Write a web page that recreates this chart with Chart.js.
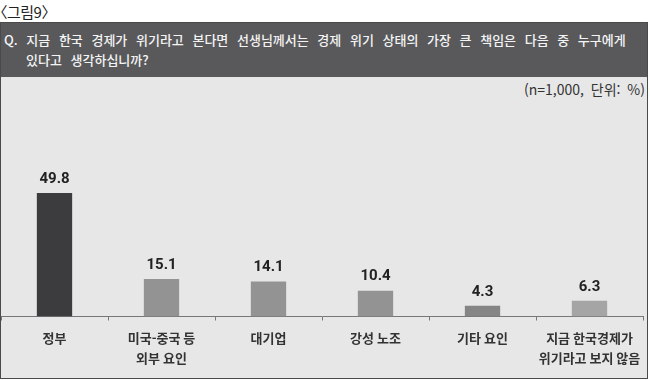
<!DOCTYPE html>
<html lang="ko">
<head>
<meta charset="utf-8">
<script src="https://cdn.jsdelivr.net/npm/chart.js@4/dist/chart.umd.min.js"></script>
<style>
  html, body { margin: 0; padding: 0; background: #ffffff; }
  body { width: 650px; height: 380px; position: relative; overflow: hidden; font-family: "Noto Sans CJK KR", sans-serif; }
  #fig { position: absolute; left: 0; top: 2px; font-size: 15px; line-height: 20px; color: #222; font-feature-settings: "halt"; letter-spacing: -0.5px; }
  #box { position: absolute; left: 0; top: 22px; width: 646px; height: 355px; border: 1px solid #4a4a4a; background: #e7e7e7; }
  #head { position: absolute; left: 0; top: 0; width: 646px; height: 54px; background: #59595b; color: #f4f4f4; font-size: 13px; line-height: 20px; font-weight: 500; word-spacing: 5px; }
  #head .l1 { position: absolute; left: 3px; top: 7px; white-space: nowrap; }
  #head .l2 { position: absolute; left: 25px; top: 27px; white-space: nowrap; }
  #unit { position: absolute; right: 5px; top: 79px; font-size: 14px; line-height: 20px; color: #333; word-spacing: 3px; }
  #wrap { position: absolute; left: 0; top: 77px; width: 650px; height: 303px; }
</style>
</head>
<body>
<div id="fig">〈그림9〉</div>
<div id="box">
  <div id="head">
    <div class="l1">Q. 지금 한국 경제가 위기라고 본다면 선생님께서는 경제 위기 상태의 가장 큰 책임은 다음 중 누구에게</div>
    <div class="l2">있다고 생각하십니까?</div>
  </div>
</div>
<div id="unit">(n=1,000, 단위: %)</div>
<div id="wrap"><canvas id="c"></canvas></div>
<script>
const categories = [
  ['정부'],
  ['미국-중국 등', '외부 요인'],
  ['대기업'],
  ['강성 노조'],
  ['기타 요인'],
  ['지금 한국경제가', '위기라고 보지 않음']
];
const values = [49.8, 15.1, 14.1, 10.4, 4.3, 6.3];
const barColors = ['#3c3c3e', '#939393', '#939393', '#939393', '#858585', '#a5a5a5'];

const valueLabels = {
  id: 'valueLabels',
  afterDatasetsDraw(chart) {
    const ctx = chart.ctx;
    ctx.save();
    ctx.font = 'bold 15px Roboto, "Noto Sans", sans-serif';
    ctx.fillStyle = '#222';
    ctx.textAlign = 'center';
    ctx.textBaseline = 'middle';
    chart.getDatasetMeta(0).data.forEach((bar, i) => {
      ctx.fillText(values[i].toFixed(1), bar.x, bar.y - 14);
    });
    ctx.restore();
  }
};

new Chart(document.getElementById('c'), {
  type: 'bar',
  data: {
    labels: categories,
    datasets: [{
      data: values,
      backgroundColor: barColors,
      borderWidth: 0,
      barPercentage: 0.33,
      categoryPercentage: 1
    }]
  },
  options: {
    responsive: true,
    maintainAspectRatio: false,
    animation: false,
    devicePixelRatio: 1,
    layout: { padding: { top: 41, left: 1, right: 7, bottom: 0 } },
    plugins: { legend: { display: false }, tooltip: { enabled: false } },
    scales: {
      x: {
        grid: { display: true, drawOnChartArea: false, drawTicks: true, tickLength: 4, color: '#777', offset: true },
        border: { display: true, color: '#777', width: 1 },
        ticks: {
          color: '#333',
          font: { family: '"Noto Sans CJK KR", sans-serif', size: 13, weight: 'bold', lineHeight: '20px' },
          padding: 8,
          maxRotation: 0,
          autoSkip: false
        },
        afterFit(scale) { scale.height = 63.5; }
      },
      y: { display: false, min: 0, max: 80 }
    }
  },
  plugins: [valueLabels]
});
</script>
</body>
</html>
